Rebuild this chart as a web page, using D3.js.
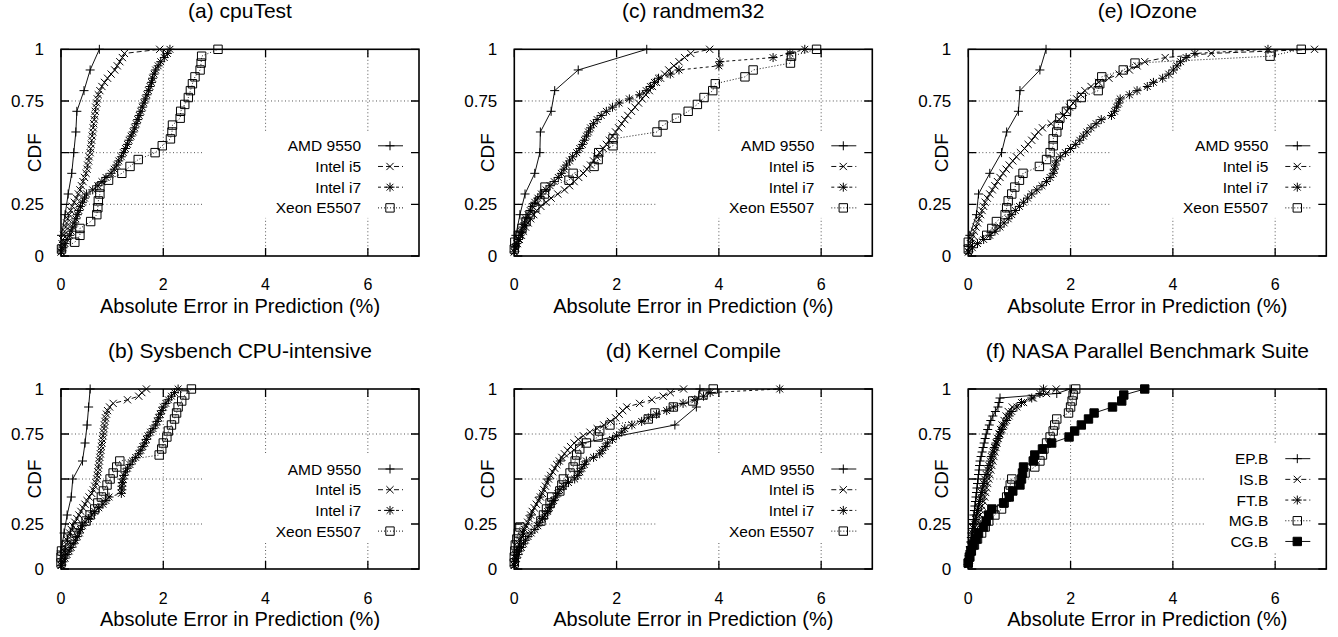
<!DOCTYPE html>
<html>
<head>
<meta charset="utf-8">
<script src="https://cdn.jsdelivr.net/npm/d3@7"></script>
<style>
    body { margin: 0; background: #fff; }
    svg text { font-family: "Liberation Sans", Arial, Helvetica, sans-serif; fill: #000; }
</style>
</head>
<body>
<svg id="chart" width="1338" height="637"></svg>
<script>
// ticks shared by all six panels (0.5 has a tick but no label, CDF sits there)
const xTicks = [0, 2, 4, 6];
const yTicks = [0, 0.25, 0.5, 0.75, 1];
const yTickLabels = ["0", "0.25", "", "0.75", "1"];

const machineNames = ["AMD 9550", "Intel i5", "Intel i7", "Xeon E5507"];
const nasaNames = ["EP.B", "IS.B", "FT.B", "MG.B", "CG.B"];

// absolute errors in prediction (%), sorted
// every value is one sample, the cdf is built from them below

// (a) cpuTest
const cpuTestAmd = [0.01, 0.08, 0.14, 0.21, 0.25, 0.29, 0.31, 0.45, 0.57, 0.75];
const cpuTestI5 = [0.00, 0.01, 0.02, 0.03, 0.05, 0.07, 0.09, 0.11, 0.13, 0.16,
    0.19, 0.22, 0.26, 0.30, 0.34, 0.37, 0.40, 0.43, 0.46, 0.49,
    0.51, 0.52, 0.54, 0.55, 0.57, 0.58, 0.59, 0.60, 0.61, 0.62,
    0.63, 0.64, 0.65, 0.66, 0.67, 0.68, 0.70, 0.71, 0.73, 0.76,
    0.80, 0.85, 0.91, 0.98, 1.05, 1.10, 1.15, 1.20, 1.24, 1.93];
const cpuTestI7 = [0.01, 0.04, 0.08, 0.12, 0.17, 0.20, 0.23, 0.26, 0.29, 0.32,
    0.35, 0.38, 0.42, 0.46, 0.50, 0.62, 0.72, 0.80, 0.88, 0.98,
    1.04, 1.09, 1.13, 1.18, 1.22, 1.26, 1.30, 1.33, 1.37, 1.41,
    1.44, 1.47, 1.50, 1.53, 1.56, 1.59, 1.62, 1.65, 1.68, 1.71,
    1.74, 1.77, 1.79, 1.82, 1.85, 1.90, 1.95, 2.02, 2.08, 2.13];
const cpuTestXeon = [0.01, 0.27, 0.37, 0.37, 0.58, 0.70, 0.72, 0.73, 0.76, 0.76,
    0.93, 1.19, 1.35, 1.51, 1.84, 1.98, 2.14, 2.17, 2.18, 2.33,
    2.34, 2.42, 2.49, 2.53, 2.57, 2.62, 2.72, 2.74, 2.75, 3.07];

// (c) randmem32
const randmemAmd = [0.03, 0.11, 0.21, 0.40, 0.50, 0.51, 0.72, 0.79, 1.25, 2.59];
const randmemI5 = [0.00, 0.03, 0.06, 0.10, 0.14, 0.18, 0.22, 0.27, 0.32, 0.38,
    0.44, 0.52, 0.62, 0.72, 0.85, 0.98, 1.08, 1.17, 1.26, 1.35,
    1.42, 1.49, 1.55, 1.61, 1.67, 1.74, 1.80, 1.86, 1.92, 1.98,
    2.04, 2.10, 2.16, 2.22, 2.29, 2.36, 2.43, 2.50, 2.57, 2.64,
    2.70, 2.78, 2.86, 2.94, 3.02, 3.12, 3.22, 3.33, 3.45, 3.82];
const randmemI7 = [0.00, 0.02, 0.05, 0.08, 0.11, 0.14, 0.17, 0.20, 0.23, 0.27,
    0.31, 0.35, 0.40, 0.46, 0.53, 0.62, 0.70, 0.78, 0.86, 0.92,
    0.97, 1.02, 1.08, 1.14, 1.22, 1.28, 1.33, 1.37, 1.41, 1.45,
    1.49, 1.55, 1.62, 1.70, 1.80, 1.92, 2.05, 2.25, 2.45, 2.58,
    2.66, 2.74, 2.82, 3.05, 3.22, 4.00, 4.02, 5.06, 5.39, 5.68];
const randmemXeon = [0.00, 0.01, 0.08, 0.15, 0.23, 0.31, 0.40, 0.50, 0.59, 0.60,
    1.07, 1.15, 1.56, 1.64, 1.65, 1.93, 1.93, 2.79, 2.91, 3.17,
    3.40, 3.58, 3.71, 3.88, 3.93, 4.51, 4.67, 5.40, 5.42, 5.91];

// (e) IOzone
const iozoneAmd = [0.03, 0.16, 0.20, 0.42, 0.65, 0.75, 0.98, 1.01, 1.40, 1.52];
const iozoneI5 = [0.00, 0.02, 0.04, 0.06, 0.09, 0.12, 0.15, 0.18, 0.21, 0.24,
    0.27, 0.30, 0.33, 0.37, 0.42, 0.47, 0.52, 0.57, 0.62, 0.68,
    0.74, 0.80, 0.87, 0.94, 1.02, 1.10, 1.17, 1.24, 1.30, 1.37,
    1.45, 1.62, 1.78, 1.86, 1.93, 1.98, 2.05, 2.12, 2.20, 2.28,
    2.40, 2.55, 2.75, 2.95, 3.15, 3.30, 3.45, 3.85, 4.75, 6.77];
const iozoneI7 = [0.01, 0.08, 0.18, 0.30, 0.42, 0.52, 0.62, 0.70, 0.78, 0.85,
    0.92, 1.00, 1.08, 1.16, 1.24, 1.34, 1.44, 1.53, 1.60, 1.66,
    1.68, 1.70, 1.72, 1.80, 1.90, 2.00, 2.10, 2.18, 2.25, 2.32,
    2.40, 2.50, 2.60, 2.80, 2.86, 2.90, 2.94, 2.97, 3.15, 3.30,
    3.50, 3.62, 3.80, 3.92, 4.01, 4.08, 4.15, 4.26, 4.43, 5.86];
const iozoneXeon = [0.00, 0.00, 0.36, 0.46, 0.55, 0.72, 0.75, 0.78, 0.85, 0.91,
    1.00, 1.07, 1.39, 1.53, 1.60, 1.66, 1.66, 1.73, 1.76, 1.79,
    1.92, 2.02, 2.21, 2.54, 2.57, 2.61, 3.03, 3.26, 5.90, 6.51];

// (b) Sysbench CPU-intensive
const sysbenchAmd = [0.00, 0.06, 0.12, 0.20, 0.23, 0.42, 0.47, 0.51, 0.54, 0.57];
const sysbenchI5 = [0.00, 0.01, 0.02, 0.04, 0.06, 0.08, 0.10, 0.12, 0.14, 0.17,
    0.20, 0.23, 0.27, 0.31, 0.35, 0.39, 0.43, 0.47, 0.51, 0.55,
    0.60, 0.63, 0.66, 0.68, 0.70, 0.71, 0.72, 0.73, 0.74, 0.75,
    0.76, 0.77, 0.78, 0.79, 0.80, 0.81, 0.82, 0.83, 0.84, 0.85,
    0.86, 0.87, 0.89, 0.91, 0.95, 1.02, 1.30, 1.52, 1.58, 1.67];
const sysbenchI7 = [0.01, 0.04, 0.08, 0.12, 0.16, 0.20, 0.24, 0.28, 0.32, 0.36,
    0.38, 0.42, 0.47, 0.54, 0.60, 0.66, 0.74, 0.82, 0.88, 0.94,
    1.18, 1.19, 1.19, 1.20, 1.21, 1.23, 1.26, 1.30, 1.35, 1.40,
    1.46, 1.52, 1.56, 1.60, 1.64, 1.67, 1.70, 1.75, 1.80, 1.85,
    1.88, 1.91, 1.94, 1.97, 2.00, 2.05, 2.10, 2.16, 2.22, 2.29];
const sysbenchXeon = [0.00, 0.00, 0.01, 0.10, 0.21, 0.27, 0.31, 0.49, 0.57, 0.66,
    0.72, 0.79, 0.83, 0.90, 0.96, 1.02, 1.09, 1.15, 1.92, 1.97,
    2.00, 2.07, 2.10, 2.16, 2.22, 2.26, 2.29, 2.36, 2.42, 2.55];

// (d) Kernel Compile
const kernelAmd = [0.04, 0.18, 0.33, 0.50, 0.66, 0.90, 1.33, 3.14, 3.56, 3.63];
const kernelI5 = [0.00, 0.01, 0.02, 0.03, 0.05, 0.07, 0.09, 0.11, 0.14, 0.17,
    0.20, 0.23, 0.26, 0.29, 0.32, 0.35, 0.39, 0.43, 0.47, 0.51,
    0.55, 0.58, 0.61, 0.64, 0.67, 0.71, 0.75, 0.79, 0.83, 0.88,
    0.93, 0.98, 1.04, 1.10, 1.17, 1.25, 1.35, 1.48, 1.62, 1.75,
    1.88, 1.98, 2.05, 2.12, 2.20, 2.45, 2.69, 2.91, 3.05, 3.31];
const kernelI7 = [0.00, 0.02, 0.04, 0.07, 0.10, 0.14, 0.18, 0.22, 0.27, 0.33,
    0.40, 0.46, 0.50, 0.55, 0.60, 0.65, 0.69, 0.73, 0.77, 0.81,
    0.85, 0.89, 0.96, 1.06, 1.18, 1.24, 1.28, 1.32, 1.37, 1.41,
    1.55, 1.67, 1.72, 1.78, 1.82, 1.92, 2.00, 2.10, 2.16, 2.30,
    2.49, 2.62, 2.78, 2.98, 3.11, 3.30, 3.53, 3.70, 3.83, 5.19];
const kernelXeon = [0.00, 0.00, 0.01, 0.02, 0.05, 0.08, 0.11, 0.52, 0.57, 0.63,
    0.70, 0.73, 0.89, 0.93, 0.96, 1.09, 1.15, 1.19, 1.22, 1.28,
    1.41, 1.64, 1.67, 1.87, 2.62, 2.75, 3.11, 3.49, 3.69, 3.89];

// (f) NASA Parallel Benchmark Suite
const nasaEp = [0.00, 0.01, 0.02, 0.03, 0.04, 0.05, 0.06, 0.07, 0.08, 0.09,
    0.10, 0.11, 0.12, 0.13, 0.14, 0.15, 0.16, 0.17, 0.18, 0.19,
    0.20, 0.21, 0.22, 0.23, 0.25, 0.27, 0.29, 0.31, 0.33, 0.35,
    0.38, 0.41, 0.44, 0.48, 0.53, 0.58, 0.60, 0.62, 1.73, 1.99];
const nasaIs = [0.00, 0.02, 0.04, 0.06, 0.08, 0.10, 0.12, 0.14, 0.16, 0.18,
    0.21, 0.23, 0.25, 0.27, 0.30, 0.32, 0.34, 0.36, 0.38, 0.40,
    0.42, 0.44, 0.46, 0.48, 0.50, 0.52, 0.54, 0.56, 0.58, 0.60,
    0.63, 0.66, 0.70, 0.74, 0.78, 0.86, 1.08, 1.27, 1.53, 1.72];
const nasaFt = [0.00, 0.01, 0.02, 0.03, 0.05, 0.06, 0.07, 0.08, 0.10, 0.12,
    0.14, 0.16, 0.18, 0.20, 0.22, 0.24, 0.26, 0.28, 0.30, 0.32,
    0.35, 0.38, 0.40, 0.43, 0.45, 0.48, 0.51, 0.54, 0.58, 0.62,
    0.66, 0.70, 0.75, 0.80, 0.85, 0.95, 1.04, 1.24, 1.40, 1.47];
const nasaMg = [0.00, 0.02, 0.05, 0.12, 0.18, 0.26, 0.33, 0.40, 0.52, 0.65,
    0.70, 0.75, 0.79, 0.82, 0.85, 1.11, 1.30, 1.40, 1.45, 1.48,
    1.53, 1.60, 1.66, 1.69, 1.73, 1.96, 2.00, 2.03, 2.05, 2.10];
const nasaCg = [0.00, 0.03, 0.06, 0.10, 0.16, 0.20, 0.30, 0.35, 0.40, 0.46,
    0.69, 0.80, 0.87, 1.01, 1.04, 1.06, 1.08, 1.27, 1.30, 1.45,
    1.63, 1.97, 2.08, 2.21, 2.35, 2.46, 2.82, 3.00, 3.04, 3.45];

const panels = [
    { title: "(a) cpuTest", col: 0, row: 0, names: machineNames,
      series: [cpuTestAmd, cpuTestI5, cpuTestI7, cpuTestXeon] },
    { title: "(c) randmem32", col: 1, row: 0, names: machineNames,
      series: [randmemAmd, randmemI5, randmemI7, randmemXeon] },
    { title: "(e) IOzone", col: 2, row: 0, names: machineNames,
      series: [iozoneAmd, iozoneI5, iozoneI7, iozoneXeon] },
    { title: "(b) Sysbench CPU-intensive", col: 0, row: 1, names: machineNames,
      series: [sysbenchAmd, sysbenchI5, sysbenchI7, sysbenchXeon] },
    { title: "(d) Kernel Compile", col: 1, row: 1, names: machineNames,
      series: [kernelAmd, kernelI5, kernelI7, kernelXeon] },
    { title: "(f) NASA Parallel Benchmark Suite", col: 2, row: 1, names: nasaNames,
      series: [nasaEp, nasaIs, nasaFt, nasaMg, nasaCg] }
];

// page layout (pixels)
const layout = {
    colLeft: [61, 514.3, 968.3],
    plotWidth: 358,
    rowTop: [49.3, 389],
    rowHeight: [206.7, 180]
};

// gnuplot style line types: +, x, *, open box, filled box
const markerPaths = {
    plus: "M-4.5,0H4.5M0,-4.5V4.5",
    cross: "M-3.6,-3.6L3.6,3.6M-3.6,3.6L3.6,-3.6",
    star: "M-4.5,0H4.5M0,-4.5V4.5M-3.4,-3.4L3.4,3.4M-3.4,3.4L3.4,-3.4",
    box: "M-4.2,-4.2H4.2V4.2H-4.2Z"
};
const lineStyles = [
    { marker: "plus", dash: null, fill: "none" },
    { marker: "cross", dash: "5,3", fill: "none" },
    { marker: "star", dash: "3,3", fill: "none" },
    { marker: "box", dash: "1,2", fill: "none" },
    { marker: "box", dash: null, fill: "#000" }
];

/** one cdf panel */
class CdfPanel {
    constructor(svg, panel) {
        this.panel = panel;
        this.width = layout.plotWidth;
        this.height = layout.rowHeight[panel.row];

        this.g = svg.append("g")
            .attr("transform", `translate(${layout.colLeft[panel.col]}, ${layout.rowTop[panel.row]})`);

        // error axis goes 0..7 %, cdf 0..1
        this.x = d3.scaleLinear().domain([0, 7]).range([0, this.width]);
        this.y = d3.scaleLinear().domain([0, 1]).range([this.height, 0]);

        // key sits right side, a bit below the middle
        const n = panel.names.length;
        this.keyStep = 20.7;
        this.keyFirst = this.height * 0.617 - (n - 1) / 2 * this.keyStep;
        const longest = d3.max(panel.names, d => d.length);
        this.keyLeft = this.width - 58 - longest * 15.8;

        this.drawGrid();
        this.drawKeyBox();
        this.drawSeries();
        this.drawFrame();
        this.drawKey();
        this.drawLabels();
    }

    drawGrid() {
        const grid = this.g.append("g")
            .attr("stroke", "#444")
            .attr("stroke-width", 0.9)
            .attr("stroke-dasharray", "1,2.5");

        grid.selectAll(".vgrid")
            .data(xTicks.filter(d => d > 0))
            .join("line")
            .attr("x1", d => this.x(d)).attr("x2", d => this.x(d))
            .attr("y1", 0).attr("y2", this.height);

        grid.selectAll(".hgrid")
            .data(yTicks.filter(d => d > 0 && d < 1))
            .join("line")
            .attr("x1", 0).attr("x2", this.width)
            .attr("y1", d => this.y(d)).attr("y2", d => this.y(d));
    }

    drawKeyBox() {
        // opaque key hides the grid behind it
        const n = this.panel.names.length;
        const top = this.keyFirst - 14;
        const bottom = this.keyFirst + (n - 1) * this.keyStep + 10;
        this.g.append("rect")
            .attr("x", this.keyLeft)
            .attr("y", top)
            .attr("width", this.width - this.keyLeft)
            .attr("height", bottom - top)
            .attr("fill", "#fff");
    }

    drawSeries() {
        const line = d3.line()
            .x(d => this.x(d[0]))
            .y(d => this.y(d[1]));

        this.panel.series.forEach((values, i) => {
            const style = lineStyles[i];
            // empirical cdf: k-th smallest error -> k / n
            const sorted = values.slice().sort(d3.ascending);
            const pts = sorted.map((v, k) => [v, (k + 1) / sorted.length]);

            this.g.append("path")
                .datum(pts)
                .attr("d", line)
                .attr("fill", "none")
                .attr("stroke", "#111")
                .attr("stroke-width", 1)
                .attr("stroke-dasharray", style.dash);

            this.g.append("g")
                .selectAll("path")
                .data(pts)
                .join("path")
                .attr("transform", d => `translate(${this.x(d[0])}, ${this.y(d[1])})`)
                .attr("d", markerPaths[style.marker])
                .attr("fill", style.fill)
                .attr("stroke", "#000")
                .attr("stroke-width", 1);
        });
    }

    drawFrame() {
        const tick = 8;
        const frame = this.g.append("g")
            .attr("stroke", "#000")
            .attr("stroke-width", 1.3);

        frame.selectAll(".xt")
            .data(xTicks)
            .join("path")
            .attr("d", d => `M${this.x(d)},${this.height}v${-tick}M${this.x(d)},0v${tick}`);

        frame.selectAll(".yt")
            .data(yTicks)
            .join("path")
            .attr("d", d => `M0,${this.y(d)}h${tick}M${this.width},${this.y(d)}h${-tick}`);

        frame.append("rect")
            .attr("width", this.width)
            .attr("height", this.height)
            .attr("fill", "none")
            .attr("stroke-width", 1.6);
    }

    drawKey() {
        const key = this.g.append("g");

        this.panel.names.forEach((name, i) => {
            const style = lineStyles[i];
            const cy = this.keyFirst + i * this.keyStep;

            key.append("text")
                .attr("x", this.width - 58)
                .attr("y", cy + 5.5)
                .attr("text-anchor", "end")
                .attr("font-size", "15.5px")
                .text(name);

            key.append("line")
                .attr("x1", this.width - 41).attr("x2", this.width - 16)
                .attr("y1", cy).attr("y2", cy)
                .attr("stroke", "#111")
                .attr("stroke-width", 1)
                .attr("stroke-dasharray", style.dash);

            key.append("path")
                .attr("transform", `translate(${this.width - 29}, ${cy})`)
                .attr("d", markerPaths[style.marker])
                .attr("fill", style.fill)
                .attr("stroke", "#000");
        });
    }

    drawLabels() {
        // tick labels
        this.g.selectAll(".xlab")
            .data(xTicks)
            .join("text")
            .attr("x", d => this.x(d))
            .attr("y", this.height + 34.5)
            .attr("text-anchor", "middle")
            .attr("font-size", "16px")
            .text(d => d);

        this.g.selectAll(".ylab")
            .data(yTicks)
            .join("text")
            .attr("x", -17)
            .attr("y", d => this.y(d) + 6)
            .attr("text-anchor", "end")
            .attr("font-size", "17px")
            .text((d, i) => yTickLabels[i]);

        // panel title
        this.g.append("text")
            .attr("x", this.width / 2)
            .attr("y", -31)
            .attr("text-anchor", "middle")
            .attr("font-size", "21px")
            .text(this.panel.title);

        // axis titles
        this.g.append("text")
            .attr("x", this.width / 2)
            .attr("y", this.height + 57)
            .attr("text-anchor", "middle")
            .attr("font-size", "20px")
            .text("Absolute Error in Prediction (%)");

        this.g.append("text")
            .attr("transform", `translate(-20, ${this.height / 2}) rotate(-90)`)
            .attr("text-anchor", "middle")
            .attr("font-size", "19px")
            .text("CDF");
    }
}

const svg = d3.select("#chart");
panels.forEach(p => new CdfPanel(svg, p));
</script>
</body>
</html>
